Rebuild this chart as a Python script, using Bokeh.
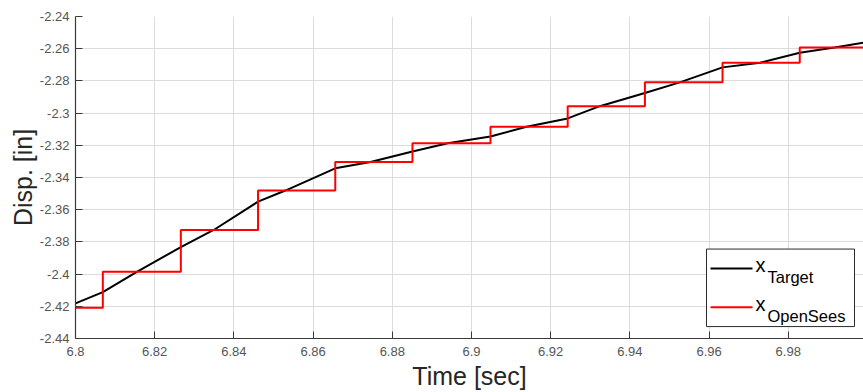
from bokeh.plotting import figure
from bokeh.models import Range1d, FixedTicker, CustomJSTickFormatter, Label
from bokeh.embed import file_html
from bokeh.resources import INLINE

# ---- data ----
TARGET_T = [6.8000, 6.8069, 6.8156, 6.8266, 6.8349, 6.8461, 6.8530, 6.8656, 6.8745,
            6.8851, 6.8940, 6.9048, 6.9139, 6.9243, 6.9324, 6.9438, 6.9526, 6.9634,
            6.9729, 6.9829, 6.9917, 6.9990]
TARGET_X = [-2.4182, -2.4112, -2.3985, -2.3832, -2.3726, -2.3550, -2.3481, -2.3343, -2.3304,
            -2.3239, -2.3187, -2.3145, -2.3085, -2.3033, -2.2957, -2.2875, -2.2809, -2.2716,
            -2.2687, -2.2625, -2.2593, -2.2563]

STEP_T = [6.8000, 6.8069, 6.8266, 6.8461, 6.8656, 6.8851, 6.9048, 6.9243, 6.9438, 6.9634, 6.9829]
STEP_X = [-2.4209, -2.3985, -2.3726, -2.3481, -2.3304, -2.3187, -2.3085, -2.2957, -2.2809, -2.2687, -2.2593]

X_TICKS = [6.8, 6.82, 6.84, 6.86, 6.88, 6.9, 6.92, 6.94, 6.96, 6.98, 7.0]
Y_TICKS = [-2.44, -2.42, -2.4, -2.38, -2.36, -2.34, -2.32, -2.3, -2.28, -2.26, -2.24]

LEGEND_NAMES = ["Target", "OpenSees"]
LEGEND_COLORS = ["black", "red"]

X_START, X_END = 6.8, 6.999
Y_START, Y_END = -2.44, -2.24

# ---- layout constants (pixels) ----
W, H = 863, 392
FL, FT = 75, 16            # frame left / top
FW, FH = W - FL, 324       # frame width / height

FONT = "Liberation Sans"

p = figure(width=W, height=H, output_backend="svg", toolbar_location=None,
           x_range=Range1d(X_START, X_END), y_range=Range1d(Y_START, Y_END),
           min_border_left=FL, min_border_right=0, min_border_top=FT,
           min_border_bottom=H - FT - FH)
p.outline_line_color = None
p.background_fill_color = "white"
p.border_fill_color = "white"

fmt = CustomJSTickFormatter(code="return Number(tick.toFixed(4)).toString();")
p.xaxis.ticker = FixedTicker(ticks=X_TICKS)
p.yaxis.ticker = FixedTicker(ticks=Y_TICKS)
p.xaxis.formatter = fmt
p.yaxis.formatter = fmt

for ax in (p.xaxis[0], p.yaxis[0]):
    ax.axis_line_color = "#3a3a3a"
    ax.axis_line_width = 1.2
    ax.major_tick_line_color = "#3a3a3a"
    ax.major_tick_in = 7
    ax.major_tick_out = 0
    ax.minor_tick_line_color = None
    ax.major_label_text_font = FONT
    ax.major_label_text_font_size = "13px"
    ax.major_label_text_color = "#555555"
    ax.axis_label_text_font = FONT
    ax.axis_label_text_font_size = "25px"
    ax.axis_label_text_font_style = "normal"
    ax.axis_label_text_color = "#262626"

p.xaxis.axis_label = "Time [sec]"
p.yaxis.axis_label = "Disp. [in]"
p.xaxis.major_label_standoff = 8
p.xaxis.axis_label_standoff = 3
p.yaxis.major_label_standoff = 6
p.yaxis.axis_label_standoff = 0

p.grid.grid_line_color = "#dcdcdc"
p.grid.grid_line_width = 1

# data
p.line(TARGET_T, TARGET_X, line_color=LEGEND_COLORS[0], line_width=2)
p.step(STEP_T + [X_END], STEP_X + [STEP_X[-1]], mode="after",
       line_color=LEGEND_COLORS[1], line_width=2)


# ---- legend (MATLAB style with subscripts) ----
def px2x(px):
    return X_START + (px - FL) * (X_END - X_START) / FW


def py2y(py):
    return Y_END - (py - FT) * (Y_END - Y_START) / FH


p.quad(left=[px2x(706)], right=[px2x(854)], top=[py2y(250)], bottom=[py2y(328)],
       fill_color="white", line_color="#2b2b2b", line_width=1)

row_y = [269.5, 308.5]
for name, col, ry in zip(LEGEND_NAMES, LEGEND_COLORS, row_y):
    p.segment(x0=[px2x(710)], x1=[px2x(752)], y0=[py2y(ry)], y1=[py2y(ry)],
              line_color=col, line_width=2)
    p.add_layout(Label(x=px2x(755), y=py2y(ry - 3), text="x",
                       text_font=FONT, text_font_size="20px", text_color="black",
                       text_baseline="alphabetic", text_align="left"))
    p.add_layout(Label(x=px2x(767), y=py2y(ry + 8.5), text=name,
                       text_font=FONT, text_font_size="16.5px", text_color="black",
                       text_baseline="alphabetic", text_align="left"))

open("out.html", "w").write(file_html(p, INLINE))
